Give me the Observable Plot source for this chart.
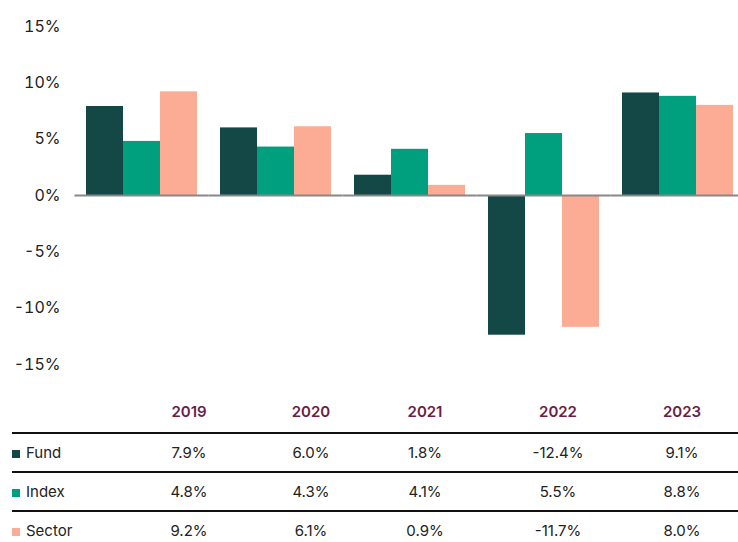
<!DOCTYPE html>
<html>
<head>
<meta charset="utf-8">
<script src="https://cdn.jsdelivr.net/npm/d3@7"></script>
<script src="https://cdn.jsdelivr.net/npm/@observablehq/plot@0.6"></script>
<style>
  body { margin: 0; background: #fff; font-family: Inter, "Noto Sans", sans-serif; color: #222; }
  #chart svg { display: block; }
  table { border-collapse: collapse; table-layout: fixed; width: 726px; margin-left: 12px; font-size: 15px; color: #222; }
  th { font-weight: 600; color: #6b1e45; height: 42px; text-align: center; border-bottom: 2px solid #111; padding: 0; }
  td { height: 37px; text-align: center; padding: 0; }
  tr.row td { border-bottom: 2px solid #111; }
  tr.last td { border-bottom: none; }
  td.lab { text-align: left; }
  .sw { display: inline-block; width: 8px; height: 8px; margin-right: 6px; vertical-align: 0px; }
</style>
</head>
<body>
<div id="chart"></div>
<script>
const years = ["2019", "2020", "2021", "2022", "2023"];
const series = ["Fund", "Index", "Sector"];
const fund = [7.9, 6.0, 1.8, -12.4, 9.1];
const index = [4.8, 4.3, 4.1, 5.5, 8.8];
const sector = [9.2, 6.1, 0.9, -11.7, 8.0];
const colors = ["#134846", "#00a07f", "#fcab95"];
const yTicks = [15, 10, 5, 0, -5, -10, -15];

const values = [fund, index, sector];
const data = [];
series.forEach((s, i) => years.forEach((y, j) => data.push({year: y, series: s, value: values[i][j]})));

const chart = Plot.plot({
  width: 738,
  height: 390,
  marginLeft: 73,
  marginRight: 0,
  marginTop: 26,
  marginBottom: 26,
  style: {fontFamily: "Inter, 'Noto Sans', sans-serif", fontSize: "16px", color: "#222", background: "#fff"},
  fx: {domain: years, paddingInner: 0.156, paddingOuter: 0.05, align: 0.78, axis: null, label: null},
  x: {domain: series, padding: 0, axis: null},
  y: {domain: [-15, 15], ticks: yTicks, tickFormat: d => d + "%", tickSize: 0, tickPadding: 25, label: null},
  color: {domain: series, range: colors},
  marks: [
    Plot.barY(data, {fx: "year", x: "series", y: "value", fill: "series"}),
    Plot.tickY([0], {stroke: "#888", strokeWidth: 2, insetLeft: -10.5, insetRight: -10.5})
  ]
});
document.getElementById("chart").appendChild(chart);

// table
const fmt = v => v.toFixed(1) + "%";
const widths = [104, 146, 98, 130, 136, 112];
let html = "<table><colgroup>" + widths.map(w => `<col style="width:${w}px">`).join("") + "</colgroup>";
html += "<thead><tr><th></th>" + years.map(y => `<th>${y}</th>`).join("") + "</tr></thead><tbody>";
series.forEach((s, i) => {
  html += `<tr class="${i === series.length - 1 ? "last" : "row"}"><td class="lab"><span class="sw" style="background:${colors[i]}"></span>${s}</td>` +
    values[i].map(v => `<td>${fmt(v)}</td>`).join("") + "</tr>";
});
html += "</tbody></table>";
const div = document.createElement("div");
div.innerHTML = html;
document.body.appendChild(div);
</script>
</body>
</html>
